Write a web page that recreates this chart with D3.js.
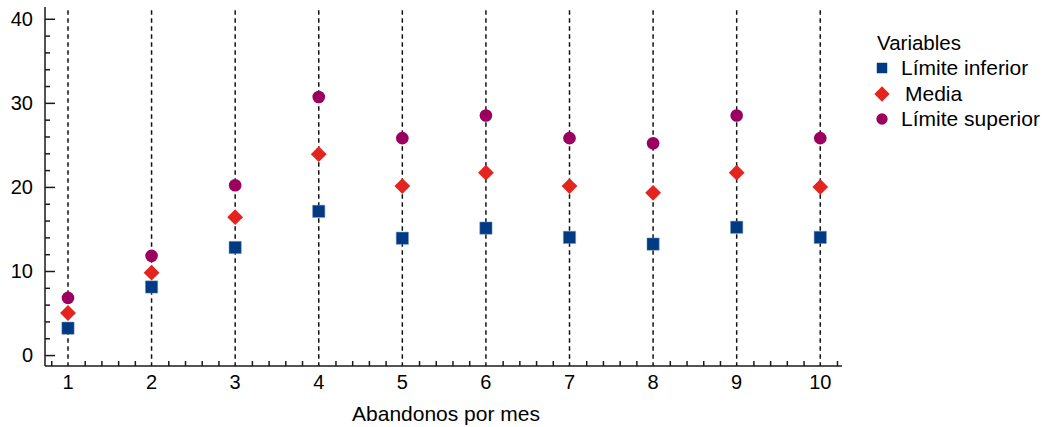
<!DOCTYPE html>
<html><head><meta charset="utf-8">
<script src="https://cdn.jsdelivr.net/npm/d3@7"></script>
<style>body{margin:0;background:#fff}svg{display:block}text{font-family:"Liberation Sans",Arial,sans-serif;fill:#000}</style>
</head><body><svg id="c" width="1043" height="427"></svg>
<script>
const categories = [1,2,3,4,5,6,7,8,9,10];
const limiteInferior = [3.2,8.1,12.8,17.1,13.9,15.1,14.0,13.2,15.2,14.0];
const media = [5.0,9.8,16.4,23.9,20.1,21.7,20.1,19.3,21.7,20.0];
const limiteSuperior = [6.8,11.8,20.2,30.7,25.8,28.5,25.8,25.2,28.5,25.8];
const yTicks = [0,10,20,30,40];
const seriesNames = ["Límite inferior","Media","Límite superior"];
const legendTitle = "Variables";
const xTitle = "Abandonos por mes";

const svg = d3.select("#c");
const x = d3.scaleLinear().domain([0.725,10.26]).range([45,842]);
const y = d3.scaleLinear().domain([-1.3,41.4]).range([366,7]);
const axisColor = "#1a1a1a";

// dashed vertical lines at categories
svg.append("g").selectAll("line").data(categories).join("line")
  .attr("x1",d=>x(d)).attr("x2",d=>x(d)).attr("y1",y(41)).attr("y2",y(-1.3))
  .attr("stroke","#111").attr("stroke-width",1.5).attr("stroke-dasharray","4.5,3.5");

// Y axis
const gy = svg.append("g").attr("transform",`translate(${x(0.725)},0)`);
const yMinor = d3.range(0,42,2).filter(v=>v%10!==0);
gy.call(d3.axisRight(y).tickValues(yMinor).tickSize(5).tickFormat(""));
gy.call(g=>g.select(".domain").remove());
const gy2 = svg.append("g").attr("transform",`translate(${x(0.725)},0)`);
gy2.call(d3.axisRight(y).tickValues(yTicks).tickSize(10).tickFormat(""));
gy2.select(".domain").attr("d",`M0,${y(-1.3)}V${y(41.4)}`);
[gy,gy2].forEach(g=>g.selectAll(".tick line").attr("stroke",axisColor).attr("stroke-width",1.5));
gy2.select(".domain").attr("stroke",axisColor).attr("stroke-width",1.5);
svg.append("g").selectAll("text").data(yTicks).join("text")
  .attr("x",33).attr("y",d=>y(d)+7).attr("text-anchor","end")
  .attr("font-size",20).text(d=>d);

// X axis
const gx = svg.append("g").attr("transform",`translate(0,${y(-1.3)})`);
const xMinor = d3.range(0.8,10.25,0.2).filter(v=>Math.abs(v-Math.round(v))>0.01);
gx.call(d3.axisTop(x).tickValues(xMinor).tickSize(5).tickFormat(""));
gx.select(".domain").attr("d",`M${x(0.725)},0H${x(10.26)}`).attr("stroke",axisColor).attr("stroke-width",1.5);
gx.selectAll(".tick line").attr("stroke",axisColor).attr("stroke-width",1.5);
svg.append("g").selectAll("text").data(categories).join("text")
  .attr("x",d=>x(d)).attr("y",389).attr("text-anchor","middle")
  .attr("font-size",20).text(d=>d);
svg.append("text").attr("x",446).attr("y",421).attr("text-anchor","middle")
  .attr("font-size",21).text(xTitle);

// Markers
const colors = ["#003A82","#E4251F","#9B0061"];
const sq = d3.symbol().type(d3.symbolSquare).size(150);
const dia = d3.symbol().type(d3.symbolDiamond2).size(160);
const circ = d3.symbol().type(d3.symbolCircle).size(125);
svg.append("g").selectAll("path").data(categories).join("path")
  .attr("d",sq()).attr("fill",colors[0]).attr("stroke","#6d8fb8").attr("stroke-width",0.5)
  .attr("transform",(d,i)=>`translate(${x(d)},${y(limiteInferior[i])})`);
svg.append("g").selectAll("path").data(categories).join("path")
  .attr("d",dia()).attr("fill",colors[1])
  .attr("transform",(d,i)=>`translate(${x(d)},${y(media[i])})`);
svg.append("g").selectAll("path").data(categories).join("path")
  .attr("d",circ()).attr("fill",colors[2])
  .attr("transform",(d,i)=>`translate(${x(d)},${y(limiteSuperior[i])})`);

// Legend
const lg = svg.append("g");
lg.append("text").attr("x",877).attr("y",50).attr("font-size",20.5).text(legendTitle);
const syms = [d3.symbol().type(d3.symbolSquare).size(110)(), d3.symbol().type(d3.symbolDiamond2).size(150)(), d3.symbol().type(d3.symbolCircle).size(100)()];
const ly = [68,94,119];
const lx = [901,905,901];
seriesNames.forEach((n,i)=>{
  lg.append("path").attr("d",syms[i]).attr("fill",colors[i]).attr("transform",`translate(882,${ly[i]})`);
  lg.append("text").attr("x",lx[i]).attr("y",ly[i]+7).attr("font-size",21).text(n);
});
</script></body></html>
